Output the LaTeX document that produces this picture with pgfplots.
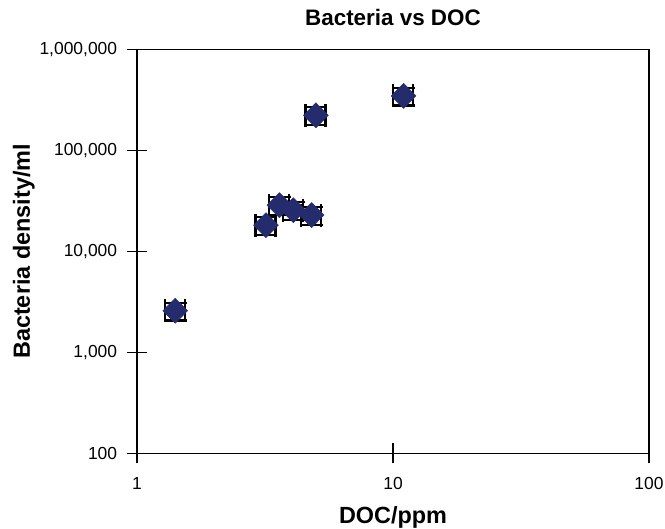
\documentclass[border=0pt]{standalone}
\usepackage{fontspec}
\setmainfont{Liberation Sans}
\usepackage{pgfplots}
\pgfplotsset{compat=1.18}
\definecolor{navy}{RGB}{36,44,110}
\pgfplotstableread{
x     y       ex    ey
1.41  2580    0.09  0.2
3.19  18200   0.09  0.2
3.60  28700   0.09  0.2
4.08  25600   0.09  0.2
4.81  22900   0.09  0.2
5.00  223000  0.09  0.2
11.0  347000  0.09  0.2
}\datatable
\begin{document}
\begin{tikzpicture}
\useasboundingbox (0,0) rectangle (665bp,529bp);
\begin{axis}[
  at={(137bp,75.7bp)}, anchor=south west,
  scale only axis, width=512bp, height=403.8bp,
  xmode=log, ymode=log,
  xmin=1, xmax=100, ymin=100, ymax=1000000,
  xtick={1,10,100}, xticklabels={1,10,100},
  ytick={100,1000,10000,100000,1000000},
  yticklabels={100,{1,000},{10,000},{100,000},{1,000,000}},
  xminorticks=false, yminorticks=false,
  tick pos=left,
  tick align=center, major tick length=20bp,
  tick style={black, line width=1.4bp},
  axis line style={black, line width=1.4bp},
  tick label style={font=\fontsize{17.5}{20}\selectfont, inner sep=0pt},
  xticklabel style={anchor=base, yshift=-26.7bp},
  yticklabel style={anchor=east, xshift=-9.7bp},
  every axis title/.style={at={(0.5,1)}, anchor=base, yshift=23.8bp,
     font=\bfseries\fontsize{22.5}{26}\selectfont},
  every axis x label/.style={at={(0.5,0)}, anchor=base, yshift=-70.7bp,
     font=\bfseries\fontsize{23.5}{27}\selectfont},
  every axis y label/.style={at={(0,0.5)}, anchor=base, rotate=90, yshift=107bp,
     font=\bfseries\fontsize{23.5}{27}\selectfont},
  title={Bacteria vs DOC},
  xlabel={DOC/ppm},
  ylabel={Bacteria density/ml},
  clip=false,
]
% error bars (drawn first, under the markers)
\addplot[
  only marks, mark=none,
  error bars/.cd,
    x dir=both, x explicit relative,
    y dir=both, y explicit relative,
    error bar style={black, line width=2.4bp},
    error mark=|,
    error mark options={black, line width=2.4bp, mark size=11.5bp},
] table[x=x, y=y, x error=ex, y error=ey] {\datatable};
% markers on top
\addplot[
  only marks,
  mark=diamond*,
  mark size=12.5bp,
  mark options={xscale=1.32, fill=navy, draw=navy, line width=0.5bp},
] table[x=x, y=y] {\datatable};
\end{axis}
\end{tikzpicture}
\end{document}
